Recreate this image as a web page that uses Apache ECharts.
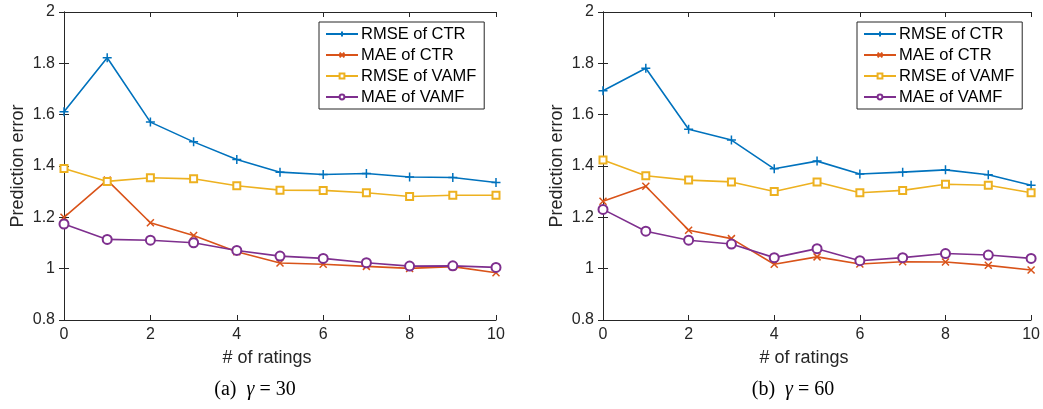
<!DOCTYPE html>
<html>
<head>
<meta charset="utf-8">
<script src="https://cdn.jsdelivr.net/npm/echarts@6/dist/echarts.min.js"></script>
<style>
  html, body { margin: 0; padding: 0; background: #fff; }
  #chart { width: 1043px; height: 409px; }
</style>
</head>
<body>
<div id="chart"></div>
<script>
const ratings = [0, 1, 2, 3, 4, 5, 6, 7, 8, 9, 10];
const seriesNames = ["RMSE of CTR", "MAE of CTR", "RMSE of VAMF", "MAE of VAMF"];
const yTicks = [0.8, 1, 1.2, 1.4, 1.6, 1.8, 2];

// gamma = 30
const rmseCtr30 = [1.611, 1.822, 1.571, 1.494, 1.425, 1.376, 1.367, 1.371, 1.357, 1.355, 1.336];
const maeCtr30 = [1.2, 1.345, 1.179, 1.129, 1.066, 1.022, 1.017, 1.009, 1.001, 1.008, 0.984];
const rmseVamf30 = [1.39, 1.34, 1.354, 1.35, 1.323, 1.306, 1.305, 1.296, 1.281, 1.286, 1.286];
const maeVamf30 = [1.174, 1.114, 1.111, 1.101, 1.071, 1.049, 1.04, 1.023, 1.01, 1.011, 1.005];

// gamma = 60
const rmseCtr60 = [1.693, 1.781, 1.543, 1.501, 1.389, 1.419, 1.369, 1.376, 1.385, 1.366, 1.325];
const maeCtr60 = [1.263, 1.321, 1.15, 1.117, 1.017, 1.046, 1.018, 1.027, 1.026, 1.013, 0.995];
const rmseVamf60 = [1.423, 1.362, 1.345, 1.338, 1.301, 1.338, 1.296, 1.305, 1.329, 1.325, 1.296];
const maeVamf60 = [1.231, 1.146, 1.111, 1.096, 1.043, 1.078, 1.031, 1.043, 1.059, 1.053, 1.04];

const colors = ["#0072BD", "#D95319", "#EDB120", "#7E2F8E"];
const symbols = [
  "path://M0,5L10,5M5,0L5,10",
  "path://M0,0L10,10M10,0L0,10",
  "emptyRect",
  "emptyCircle"
];
const symbolSizes = [9, 7, 7, 9];
const axisColor = "#262626";
const font = "'Liberation Sans', Arial, sans-serif";
const serif = "'Liberation Serif', 'Times New Roman', serif";

const chart = echarts.init(document.getElementById("chart"));

function pairs(values) {
  return ratings.map((r, i) => [r, values[i]]);
}

function makeSeries(idx, lists) {
  return lists.map((values, k) => ({
    name: seriesNames[k],
    type: "line",
    xAxisIndex: idx * 2,
    yAxisIndex: idx * 2,
    data: pairs(values),
    symbol: symbols[k],
    symbolSize: symbolSizes[k],
    showAllSymbol: true,
    lineStyle: { color: colors[k], width: 1.6 },
    itemStyle: { color: colors[k], borderColor: colors[k], borderWidth: 1.5 },
    emphasis: { disabled: true },
    animation: false
  }));
}

const grids = [
  { left: 64, right: 547, top: 12, bottom: 89 },
  { left: 603, right: 11, top: 12, bottom: 89 }
];

const xAxes = [];
const yAxes = [];
grids.forEach((g, i) => {
  xAxes.push({
    type: "value", gridIndex: i, min: 0, max: 10, interval: 2,
    name: "# of ratings", nameLocation: "middle", nameGap: 29,
    nameTextStyle: { color: axisColor, fontSize: 18, fontFamily: font, padding: [0, 26, 0, 0] },
    axisLine: { lineStyle: { color: axisColor, width: 1 } },
    axisTick: { inside: true, length: 5, lineStyle: { color: axisColor } },
    axisLabel: { color: axisColor, fontSize: 16, fontFamily: font, margin: 7 },
    splitLine: { show: false }
  });
  xAxes.push({
    type: "value", gridIndex: i, min: 0, max: 10, interval: 2, position: "top",
    axisLine: { lineStyle: { color: axisColor, width: 1 } },
    axisTick: { inside: true, length: 5, lineStyle: { color: axisColor } },
    axisLabel: { show: false },
    splitLine: { show: false }
  });
  yAxes.push({
    type: "value", gridIndex: i, min: yTicks[0], max: yTicks[yTicks.length - 1], interval: 0.2,
    name: "Prediction error", nameLocation: "middle", nameGap: 37,
    nameTextStyle: { color: axisColor, fontSize: 18, fontFamily: font },
    axisLine: { lineStyle: { color: axisColor, width: 1 } },
    axisTick: { inside: true, length: 5, lineStyle: { color: axisColor } },
    axisLabel: { color: axisColor, fontSize: 16, fontFamily: font, margin: 9 },
    splitLine: { show: false }
  });
  yAxes.push({
    type: "value", gridIndex: i, min: yTicks[0], max: yTicks[yTicks.length - 1], interval: 0.2,
    position: "right",
    axisLine: { lineStyle: { color: axisColor, width: 1 } },
    axisTick: { inside: true, length: 5, lineStyle: { color: axisColor } },
    axisLabel: { show: false },
    splitLine: { show: false }
  });
});

function makeLegend(left) {
  return {
    orient: "vertical",
    left: left,
    top: 22,
    data: seriesNames,
    itemWidth: 32,
    itemHeight: 6,
    itemGap: 1,
    padding: [2, 8, 2, 6],
    borderColor: axisColor,
    borderWidth: 1,
    borderRadius: 0,
    backgroundColor: "#fff",
    selectedMode: false,
    textStyle: { color: "#000", fontSize: 16.5, fontFamily: font, lineHeight: 20, padding: [0, 0, 0, -2] }
  };
}

function makeCaption(left, letter, gamma) {
  return {
    text: "(" + letter + ")  {i|γ} = " + gamma,
    left: left,
    top: 380,
    textAlign: "center",
    padding: 0,
    textStyle: {
      color: "#000",
      fontSize: 20,
      fontWeight: "normal",
      fontFamily: serif,
      rich: {
        i: { fontSize: 20, fontStyle: "italic", fontFamily: serif }
      }
    }
  };
}

chart.setOption({
  animation: false,
  title: [makeCaption(255, "a", 30), makeCaption(793, "b", 60)],
  legend: [makeLegend(319), makeLegend(857)],
  grid: grids,
  xAxis: xAxes,
  yAxis: yAxes,
  series: [
    ...makeSeries(0, [rmseCtr30, maeCtr30, rmseVamf30, maeVamf30]),
    ...makeSeries(1, [rmseCtr60, maeCtr60, rmseVamf60, maeVamf60])
  ]
});
</script>
</body>
</html>
